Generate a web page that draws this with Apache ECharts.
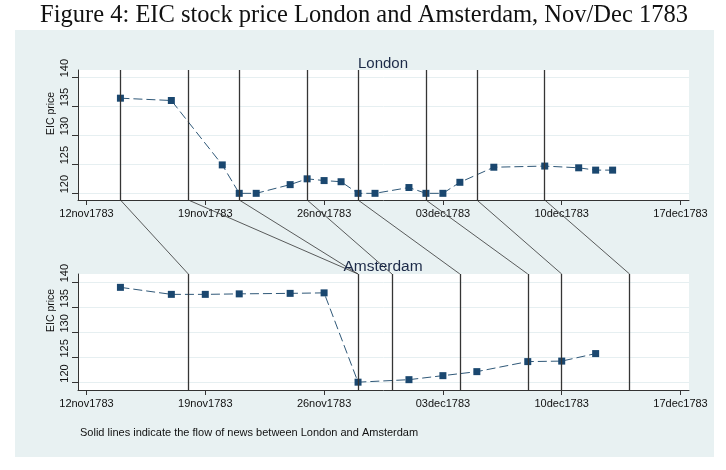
<!DOCTYPE html>
<html><head><meta charset="utf-8">
<script src="https://cdn.jsdelivr.net/npm/echarts@6/dist/echarts.min.js"></script>
<style>
html,body{margin:0;padding:0;background:#fff}
#bg{position:absolute;left:15px;top:30px;width:699px;height:427px;background:#e8f1f2}
#c{position:absolute;left:0;top:0;width:726px;height:470px}
</style>
</head><body><div id="bg"></div><div id="c"></div>
<script>
// ---- data ----
const baseDate = '1783-11-12';
const xTickDates = ['1783-11-12','1783-11-19','1783-11-26','1783-12-03','1783-12-10','1783-12-17'];
const xTickLabels = ['12nov1783','19nov1783','26nov1783','03dec1783','10dec1783','17dec1783'];
const yTicks = [120, 125, 130, 135, 140];

const londonDates = ['1783-11-14','1783-11-17','1783-11-20','1783-11-21','1783-11-22','1783-11-24','1783-11-25','1783-11-26','1783-11-27','1783-11-28','1783-11-29','1783-12-01','1783-12-02','1783-12-03','1783-12-04','1783-12-06','1783-12-09','1783-12-11','1783-12-12','1783-12-13'];
const londonPrice = [136.4,136.0,124.9,120.0,120.0,121.5,122.5,122.2,122.0,120.0,120.0,121.0,120.0,120.0,121.9,124.5,124.7,124.4,124.0,124.0];

const amsterdamDates = ['1783-11-14','1783-11-17','1783-11-19','1783-11-21','1783-11-24','1783-11-26','1783-11-28','1783-12-01','1783-12-03','1783-12-05','1783-12-08','1783-12-10','1783-12-12'];
const amsterdamPrice = [139.0,137.6,137.6,137.7,137.8,137.9,120.1,120.6,121.4,122.2,124.2,124.3,125.8];

// news departs London (first) and arrives in Amsterdam (second)
const newsLondon    = ['1783-11-14','1783-11-18','1783-11-21','1783-11-25','1783-11-28','1783-12-02','1783-12-05','1783-12-09'];
const newsAmsterdam = ['1783-11-18','1783-11-28','1783-11-28','1783-11-30','1783-12-04','1783-12-08','1783-12-10','1783-12-14'];

// ---- helpers ----
function day(s){
  const p = s.split('-').map(Number), b = baseDate.split('-').map(Number);
  return (Date.UTC(p[0],p[1]-1,p[2]) - Date.UTC(b[0],b[1]-1,b[2]))/86400000;
}
const xTickVals = xTickDates.map(day);
const labelMap = {};
xTickVals.forEach((v,i)=>{ labelMap[v] = xTickLabels[i]; });

const navy = '#1a476f';
const sans = 'Liberation Sans';

function xAxisCfg(gi, margin){
  return {
    type:'value', gridIndex:gi, min:-0.5, max:35.5,
    axisLine:{show:true, onZero:false, lineStyle:{color:'#333', width:1}},
    axisTick:{show:true, length:5, customValues:xTickVals, lineStyle:{color:'#333'}},
    axisLabel:{show:true, customValues:xTickVals, margin:margin, fontFamily:sans, fontSize:11, color:'#111',
      formatter:v=>labelMap[v] || ''},
    splitLine:{show:false}
  };
}
function yAxisCfg(gi, mn, mx){
  return {
    type:'value', gridIndex:gi, min:mn, max:mx,
    name:'EIC price', nameLocation:'middle', nameRotate:90, nameGap:21, nameMoveOverlap:false,
    nameTextStyle:{fontFamily:sans, fontSize:10.5, color:'#111', align:'left', verticalAlign:'bottom'},
    axisLine:{show:true, onZero:false, lineStyle:{color:'#333', width:1}},
    axisTick:{show:true, length:6, customValues:yTicks, lineStyle:{color:'#333'}},
    axisLabel:{show:true, customValues:yTicks, rotate:90, margin:8, fontFamily:sans, fontSize:11, color:'#111',
      align:'left', verticalAlign:'bottom'},
    splitLine:{show:true, lineStyle:{color:'#e6eff1', width:1}}
  };
}
function vlines(dates){
  const u = Array.from(new Set(dates));
  return {
    silent:true, symbol:['none','none'], animation:false,
    label:{show:false},
    lineStyle:{type:'solid', color:'#353535', width:1.3},
    data:u.map(d=>({xAxis:day(d)}))
  };
}

const chart = echarts.init(document.getElementById('c'), null, {renderer:'canvas'});
chart.setOption({
  animation:false,
  backgroundColor:'transparent',
  title:[
    {text:'Figure 4: EIC stock price London and Amsterdam, Nov/Dec 1783', left:364, top:3.5, textAlign:'center', padding:0,
      textStyle:{fontFamily:'Liberation Serif', fontSize:24.5, fontWeight:'normal', color:'#111'}},
    {text:'London', left:383, top:56, textAlign:'center', padding:0,
      textStyle:{fontFamily:sans, fontSize:15, fontWeight:'normal', color:'#1c2a48'}},
    {text:'Amsterdam', left:383, top:259, textAlign:'center', padding:0,
      textStyle:{fontFamily:sans, fontSize:15.5, fontWeight:'normal', color:'#1c2a48'}},
    {text:'Solid lines indicate the flow of news between London and Amsterdam', left:80, top:427, padding:0,
      textStyle:{fontFamily:sans, fontSize:11, fontWeight:'normal', color:'#111'}}
  ],
  grid:[
    {left:78, top:70, width:611, height:130, show:true, backgroundColor:'#fff', borderWidth:0},
    {left:78, top:274, width:611, height:116, show:true, backgroundColor:'#fff', borderWidth:0},
    {left:78, top:200, width:611, height:74, show:false}
  ],
  xAxis:[
    xAxisCfg(0, 8),
    xAxisCfg(1, 8),
    {type:'value', gridIndex:2, min:-0.5, max:35.5, show:false}
  ],
  yAxis:[
    yAxisCfg(0, 118.85, 141.26),
    yAxisCfg(1, 118.54, 141.66),
    {type:'value', gridIndex:2, min:0, max:1, show:false}
  ],
  series:[
    {type:'line', xAxisIndex:0, yAxisIndex:0,
      data:londonDates.map((d,i)=>[day(d), londonPrice[i]]),
      symbol:'rect', symbolSize:7, itemStyle:{color:navy},
      lineStyle:{color:'#2f5878', width:1, type:[9,4]},
      markLine:vlines(newsLondon), z:3},
    {type:'line', xAxisIndex:1, yAxisIndex:1,
      data:amsterdamDates.map((d,i)=>[day(d), amsterdamPrice[i]]),
      symbol:'rect', symbolSize:7, itemStyle:{color:navy},
      lineStyle:{color:'#2f5878', width:1, type:[9,4]},
      markLine:vlines(newsAmsterdam), z:3},
    {type:'lines', coordinateSystem:'cartesian2d', xAxisIndex:2, yAxisIndex:2,
      silent:true, lineStyle:{color:'#333', width:0.8, opacity:1, curveness:0},
      data:newsLondon.map((d,i)=>({coords:[[day(d),1],[day(newsAmsterdam[i]),0]]}))}
  ]
});
</script>
</body></html>
